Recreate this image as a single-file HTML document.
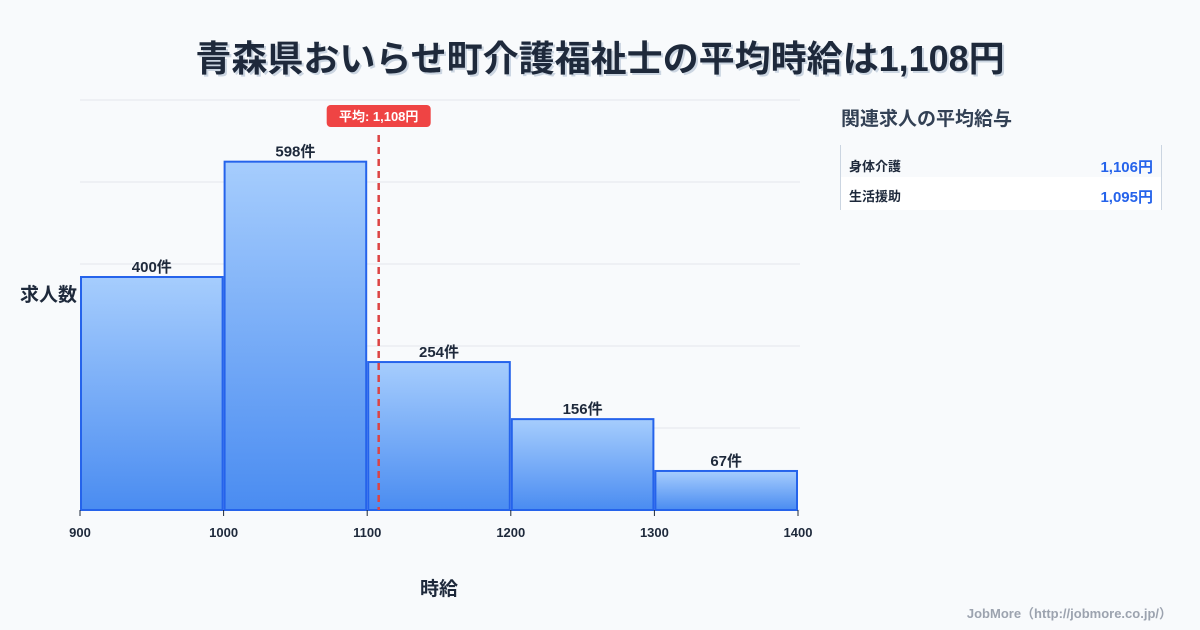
<!DOCTYPE html>
<html><head><meta charset="utf-8">
<style>
body{margin:0;width:1200px;height:630px;background:#f8fafc;font-family:"Liberation Sans","Noto Sans CJK JP",sans-serif;position:relative;overflow:hidden;color:#1e293b}
.t{position:absolute;white-space:nowrap}
</style></head><body>
<div class="t" style="left:0;width:1200px;text-align:center;top:30px;font-size:36px;font-weight:bold;color:#1e293b;text-shadow:2px 2px 0 #cbd5e1">青森県おいらせ町介護福祉士の平均時給は1,108円</div>
<svg id="c" width="1200" height="630" style="position:absolute;left:0;top:0">
<defs><linearGradient id="g" x1="0" y1="0" x2="0" y2="1"><stop offset="0" stop-color="#a6cdfd"/><stop offset="1" stop-color="#4a8cf1"/></linearGradient></defs>
</svg>
<div class="t" style="left:20px;top:280px;font-size:19px;font-weight:bold">求人数</div>
<div class="t" style="left:420px;top:574px;font-size:19px;font-weight:bold">時給</div>
<div class="t" style="left:841px;top:104px;font-size:19px;font-weight:bold;color:#334155">関連求人の平均給与</div>
<div style="position:absolute;left:840px;top:145px;width:320px;height:65px;border-left:1px solid #cbd5e1;border-right:1px solid #cbd5e1">
<div style="height:32px;background:#f8fafc;position:relative"><span class="t" style="left:8px;top:11px;font-size:13px;font-weight:bold">身体介護</span><span class="t" style="right:8px;top:11px;font-size:15px;font-weight:bold;color:#2563eb">1,106円</span></div>
<div style="height:33px;background:#fff;position:relative"><span class="t" style="left:8px;top:9px;font-size:13px;font-weight:bold">生活援助</span><span class="t" style="right:8px;top:9px;font-size:15px;font-weight:bold;color:#2563eb">1,095円</span></div>
</div>
<div class="t" style="right:28px;top:603px;font-size:13px;font-weight:bold;color:#9ca3af">JobMore（http://jobmore.co.jp/）</div>
<script>
const binStarts=[900,1000,1100,1200,1300];
const counts=[400,598,254,156,67];
const xTicks=[900,1000,1100,1200,1300,1400];
const avg=1108;
const ns="http://www.w3.org/2000/svg",svg=document.getElementById('c');
const x=v=>80+(v-900)*718/500, y=v=>510-v*0.5825;
function mk(t,a){const e=document.createElementNS(ns,t);for(const k in a)e.setAttribute(k,a[k]);svg.appendChild(e);return e;}
for(let i=0;i<6;i++){const g=mk('line',{x1:80,x2:800,y1:510-i*82,y2:510-i*82,stroke:'#e5e7eb'});

}
binStarts.forEach((b,i)=>{const r=mk('rect',{x:x(b)+1,y:y(counts[i]),width:x(b+100)-x(b)-2,height:510-y(counts[i]),fill:'url(#g)',stroke:'#2563eb','stroke-width':2});


const t=mk('text',{x:(x(b)+x(b+100))/2,y:y(counts[i])-5,'text-anchor':'middle','font-size':15,'font-weight':'bold',fill:'#1e293b'});t.textContent=counts[i]+'件';

});
xTicks.forEach(v=>{const t=mk('text',{x:x(v),y:537,'text-anchor':'middle','font-size':13,'font-weight':'bold',fill:'#1e293b'});t.textContent=v;


const l=mk('line',{x1:x(v),x2:x(v),y1:510,y2:516,stroke:'#1e293b'});

});
const al=mk('line',{x1:x(avg),x2:x(avg),y1:135,y2:510,stroke:'#dc4444','stroke-width':2.5,'stroke-dasharray':'7,5'});


const ab=mk('rect',{x:x(avg)-52,y:105,width:104,height:22,rx:4,fill:'#ef4444'});


const at=mk('text',{x:x(avg),y:121,'text-anchor':'middle','font-size':13,'font-weight':'bold',fill:'#fff'});at.textContent='平均: 1,108円';


</script>
</body></html>
